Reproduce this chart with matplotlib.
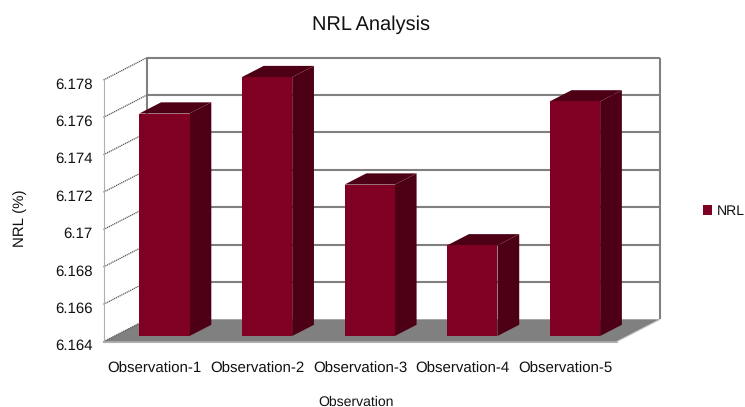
import matplotlib
matplotlib.use("Agg")
import matplotlib.pyplot as plt
from matplotlib.patches import Polygon
from matplotlib.transforms import ScaledTranslation

plt.rcParams['font.family'] = ['Liberation Sans', 'DejaVu Sans']
plt.rcParams['text.hinting'] = 'none'
plt.rcParams['text.hinting_factor'] = 1

categories = ['Observation-1', 'Observation-2', 'Observation-3', 'Observation-4', 'Observation-5']
nrl_values = [6.1759, 6.17785, 6.1721, 6.16885, 6.17655]
y_ticks = [6.164, 6.166, 6.168, 6.17, 6.172, 6.174, 6.176, 6.178]
y_tick_labels = ['6.164', '6.166', '6.168', '6.17', '6.172', '6.174', '6.176', '6.178']

FRONT = '#800024'
DARK = '#4d0015'
GRAY = '#808080'

W, H = 745, 407
fig = plt.figure(figsize=(W / 100, H / 100), dpi=100)
ax = fig.add_axes([103.5 / W, 1 - 341.7 / H, (616.7 - 103.5) / W, (341.7 - 80) / H])
ax.set_xlim(-0.5, 4.5)
ax.set_ylim(y_ticks[0], y_ticks[-1])

# Oblique depth vector of the chart box, in data units
px_x = (616.7 - 103.5) / 5
px_y = (341.7 - 80) / (y_ticks[-1] - y_ticks[0])
DX, DY = 43.5 / px_x, 22.4 / px_y
x0, x1 = -0.5, 4.5
y0, y1 = y_ticks[0], y_ticks[-1]


def poly(points, **kw):
    ax.add_patch(Polygon(points, closed=True, clip_on=False, **kw))


def line(xs, ys, **kw):
    ax.plot(xs, ys, clip_on=False, solid_capstyle='butt', **kw)


# Floor
poly([(x0, y0), (x1, y0), (x1 + DX, y0 + DY), (x0 + DX, y0 + DY)],
     facecolor=GRAY, edgecolor='none', zorder=1)

# Back wall gridlines and frame
for t in y_ticks[1:]:
    line([x0 + DX, x1 + DX], [t + DY, t + DY], color=GRAY, lw=1.5, zorder=2)
line([x0 + DX, x0 + DX], [y0 + DY, y1 + DY], color=GRAY, lw=1.5, zorder=2)
line([x1 + DX, x1 + DX], [y0 + DY, y1 + DY], color=GRAY, lw=1.5, zorder=2)

# Side wall lines running from the axis to the back wall
for t in y_ticks:
    line([x0, x0 + DX], [t, t + DY], color='#555555', lw=0.9, ls=(0, (1, 0.6)), zorder=2)
line([x1, x1 + DX], [y0, y0 + DY], color='#c8c8c8', lw=0.8, zorder=2)

# Bars: front faces sit a little behind the front edge of the floor
BAR_W = 0.49
NEAR = 0.255
FAR = 0.755
BAR_SHIFT = -1.5 / px_x
xs = list(range(len(categories)))
bars = ax.bar([x + NEAR * DX + BAR_SHIFT for x in xs],
              [v - y0 for v in nrl_values],
              bottom=y0 + NEAR * DY, width=BAR_W, color=FRONT,
              clip_on=False, zorder=5, label='NRL')
span_x = (FAR - NEAR) * DX
span_y = (FAR - NEAR) * DY
for x, v in zip(xs, nrl_values):
    right = x + NEAR * DX + BAR_SHIFT + BAR_W / 2
    left = right - BAR_W
    base = y0 + NEAR * DY
    top = v + NEAR * DY
    poly([(right, base), (right + span_x, base + span_y),
          (right + span_x, top + span_y), (right, top)],
         facecolor=DARK, edgecolor='none', zorder=4)
    poly([(left, top), (right, top), (right + span_x, top + span_y),
          (left + span_x, top + span_y)],
         facecolor=DARK, edgecolor='none', zorder=4)

# Axes furniture
for name in ('top', 'right'):
    ax.spines[name].set_visible(False)
ax.spines['left'].set_color('#b0b0b0')
ax.spines['left'].set_linewidth(0.8)
ax.spines['bottom'].set_color('#b0b0b0')
ax.spines['bottom'].set_linewidth(0.8)
ax.patch.set_visible(False)
ax.set_xticks(xs)
ax.set_xticklabels(categories, fontsize=10.6, color='#111111')
ax.set_yticks(y_ticks)
ax.set_yticklabels(y_tick_labels, fontsize=10.6, color='#111111')
ax.tick_params(axis='both', length=0)
ax.tick_params(axis='x', pad=14.5)
ax.tick_params(axis='y', pad=8)

# Value labels sit slightly below their tick level
shift = ScaledTranslation(0, -3 / 100, fig.dpi_scale_trans)
for label in ax.get_yticklabels():
    label.set_transform(label.get_transform() + shift)

fig.text(371 / W, 1 - 25 / H, 'NRL Analysis', ha='center', va='center', fontsize=14.2, color='#111111')
fig.text(356.5 / W, 1 - 405.5 / H, 'Observation', ha='center', va='baseline', fontsize=10, color='#111111')
fig.text(20 / W, 1 - 218 / H, 'NRL (%)', ha='center', va='center', rotation=90, fontsize=11, color='#111111')

fig.legend(handles=[bars], labels=['NRL'], loc='center left',
           bbox_to_anchor=(702.5 / W, 1 - 211 / H), frameon=False, fontsize=10.2,
           handlelength=0.68, handleheight=0.68, handletextpad=0.3,
           borderpad=0, borderaxespad=0, labelcolor='#111111')

fig.savefig('out.png', dpi=100)
